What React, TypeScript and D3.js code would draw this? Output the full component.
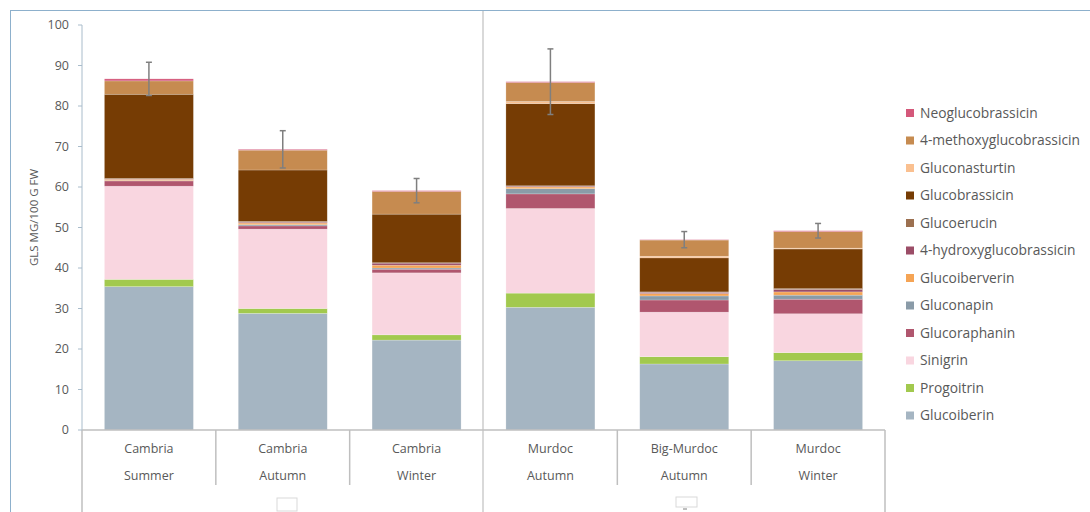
import React from "react";
import * as d3 from "d3";

const categories = ["Cambria|Summer", "Cambria|Autumn", "Cambria|Winter", "Murdoc|Autumn", "Big-Murdoc|Autumn", "Murdoc|Winter"];

// stacking order bottom -> top
const seriesNames = [
  "Glucoiberin", "Progoitrin", "Sinigrin", "Glucoraphanin", "Gluconapin", "Glucoiberverin",
  "4-hydroxyglucobrassicin", "Glucoerucin", "Glucobrassicin", "Gluconasturtin",
  "4-methoxyglucobrassicin", "Neoglucobrassicin",
];
const seriesColors = [
  "#A5B5C2", "#A2C94E", "#F9D6E0", "#B0566E", "#8A9BA8", "#F5A455",
  "#9B4D67", "#9C7050", "#763C04", "#FAC090", "#C68B50", "#D4587A",
];

const glucoiberin = [35.4, 28.8, 22.2, 30.3, 16.3, 17.1];
const progoitrin = [1.8, 1.2, 1.3, 3.5, 1.8, 2.0];
const sinigrin = [23.0, 19.6, 15.3, 20.9, 11.0, 9.6];
const glucoraphanin = [1.3, 0.8, 0.9, 3.6, 3.0, 3.6];
const gluconapin = [0.1, 0.3, 0.3, 1.3, 1.0, 1.0];
const glucoiberverin = [0.3, 0.4, 0.7, 0.4, 0.6, 0.8];
const hydroxyglucobrassicin = [0.1, 0.2, 0.5, 0.2, 0.3, 0.6];
const glucoerucin = [0.1, 0.2, 0.1, 0.1, 0.1, 0.2];
const glucobrassicin = [20.8, 12.7, 12.0, 20.3, 8.4, 9.8];
const gluconasturtin = [0.0, 0.0, 0.0, 0.5, 0.4, 0.2];
const methoxyglucobrassicin = [3.3, 4.9, 5.6, 4.7, 4.0, 4.1];
const neoglucobrassicin = [0.5, 0.2, 0.2, 0.2, 0.1, 0.2];

const errors = [4.1, 4.6, 3.0, 8.1, 2.0, 1.8];

const yTicks = [0, 10, 20, 30, 40, 50, 60, 70, 80, 90, 100];

const seriesValues = [
  glucoiberin, progoitrin, sinigrin, glucoraphanin, gluconapin, glucoiberverin,
  hydroxyglucobrassicin, glucoerucin, glucobrassicin, gluconasturtin,
  methoxyglucobrassicin, neoglucobrassicin,
];

const FONT = "'Open Sans', Lato, sans-serif";
const TXT = "#595959";

export default function App() {
  const W = 1090, H = 512;
  const x0 = 82, x1 = 885, yTop = 25, yBot = 430;
  const y = d3.scaleLinear().domain([0, 100]).range([yBot, yTop]);
  const x = d3.scaleBand<number>().domain(d3.range(categories.length)).range([x0, x1]).padding(0);
  const barW = x.bandwidth() * 0.665;

  const table = categories.map((_, i) => {
    const row: Record<string, number> = { idx: i };
    seriesNames.forEach((s, k) => (row[s] = seriesValues[k][i]));
    return row;
  });
  const stack = d3.stack<Record<string, number>>().keys(seriesNames)(table);
  const totals = categories.map((_, i) => d3.sum(seriesValues, (s) => s[i]));

  const legendY0 = 113, legendStep = 27.5;
  const legendOrder = [...seriesNames.keys()].reverse();

  return (
    <svg width={W} height={H} style={{ position: "absolute", left: 0, top: 0, background: "#fff" }}>
      <rect x={10.5} y={10.5} width={W + 10} height={H + 10} fill="#fff" stroke="#8DB0CC" strokeWidth={1} />
      {/* group divider */}
      <line x1={483} x2={483} y1={11} y2={H} stroke="#D9D9D9" strokeWidth={2} />

      {/* bars */}
      {stack.map((layer, k) => (
        <g key={k} fill={seriesColors[k]}>
          {layer.map((d, i) => {
            const h = y(d[0]) - y(d[1]);
            if (h <= 0) return null;
            return (
              <rect key={i} x={(x(i) as number) + (x.bandwidth() - barW) / 2} y={y(d[1])} width={barW} height={h}
                stroke="#ffffff" strokeOpacity={0.35} strokeWidth={0.6} />
            );
          })}
        </g>
      ))}

      {/* error bars */}
      {totals.map((t, i) => {
        const cx = (x(i) as number) + x.bandwidth() / 2;
        const e = errors[i];
        return (
          <g key={i} stroke="#7F7F7F" strokeWidth={1.5}>
            <line x1={cx} x2={cx} y1={y(t + e)} y2={y(t - e)} />
            <line x1={cx - 3} x2={cx + 3} y1={y(t + e)} y2={y(t + e)} />
            <line x1={cx - 3} x2={cx + 3} y1={y(t - e)} y2={y(t - e)} />
          </g>
        );
      })}

      {/* y axis */}
      <line x1={x0} x2={x0} y1={yTop} y2={yBot} stroke="#A9BCCB" strokeWidth={1} />
      <line x1={x0} x2={x0} y1={yBot} y2={H} stroke="#BFBFBF" strokeWidth={1.5} />
      {yTicks.map((t) => (
        <g key={t}>
          <line x1={x0 - 4} x2={x0} y1={y(t)} y2={y(t)} stroke="#A9BCCB" />
          <text x={69} y={y(t)} dy="0.35em" textAnchor="end" fontSize={12.5} fill={TXT} fontFamily={FONT}>{t}</text>
        </g>
      ))}
      <text transform={`translate(38,${(yTop + yBot) / 2 - 10}) rotate(-90)`} textAnchor="middle" fontSize={11.5} fill={TXT} fontFamily={FONT}>
        GLS MG/100 G FW
      </text>

      {/* x axis */}
      <line x1={x0} x2={x1} y1={yBot} y2={yBot} stroke="#BFBFBF" strokeWidth={1.5} />
      {categories.map((c, i) => {
        const [a, b] = c.split("|");
        const cx = (x(i) as number) + x.bandwidth() / 2;
        return (
          <g key={i} fontSize={12.5} fill={TXT} fontFamily={FONT} textAnchor="middle">
            <text x={cx} y={449} dy="0.35em">{a}</text>
            <text x={cx} y={476} dy="0.35em">{b}</text>
          </g>
        );
      })}
      {[1, 2, 4, 5].map((i) => (
        <line key={i} x1={x(i) as number} x2={x(i) as number} y1={yBot} y2={485} stroke="#BFBFBF" strokeWidth={1.5} />
      ))}
      <line x1={x1} x2={x1} y1={yBot} y2={H} stroke="#BFBFBF" strokeWidth={1.5} />
      <rect x={277} y={498} width={20} height={13} fill="#fff" stroke="#D9D9D9" />
      <rect x={676} y={497} width={21} height={10} fill="#fff" stroke="#D9D9D9" />
      <line x1={683} x2={687} y1={509} y2={509} stroke="#7F7F7F" />

      {/* legend */}
      {legendOrder.map((k, j) => (
        <g key={k} transform={`translate(906,${legendY0 + j * legendStep})`}>
          <rect x={0} y={-4} width={8} height={8} fill={seriesColors[k]} />
          <text x={14} y={0} dy="0.35em" fontSize={13.8} fill={TXT} fontFamily={FONT}>{seriesNames[k]}</text>
        </g>
      ))}
    </svg>
  );
}
